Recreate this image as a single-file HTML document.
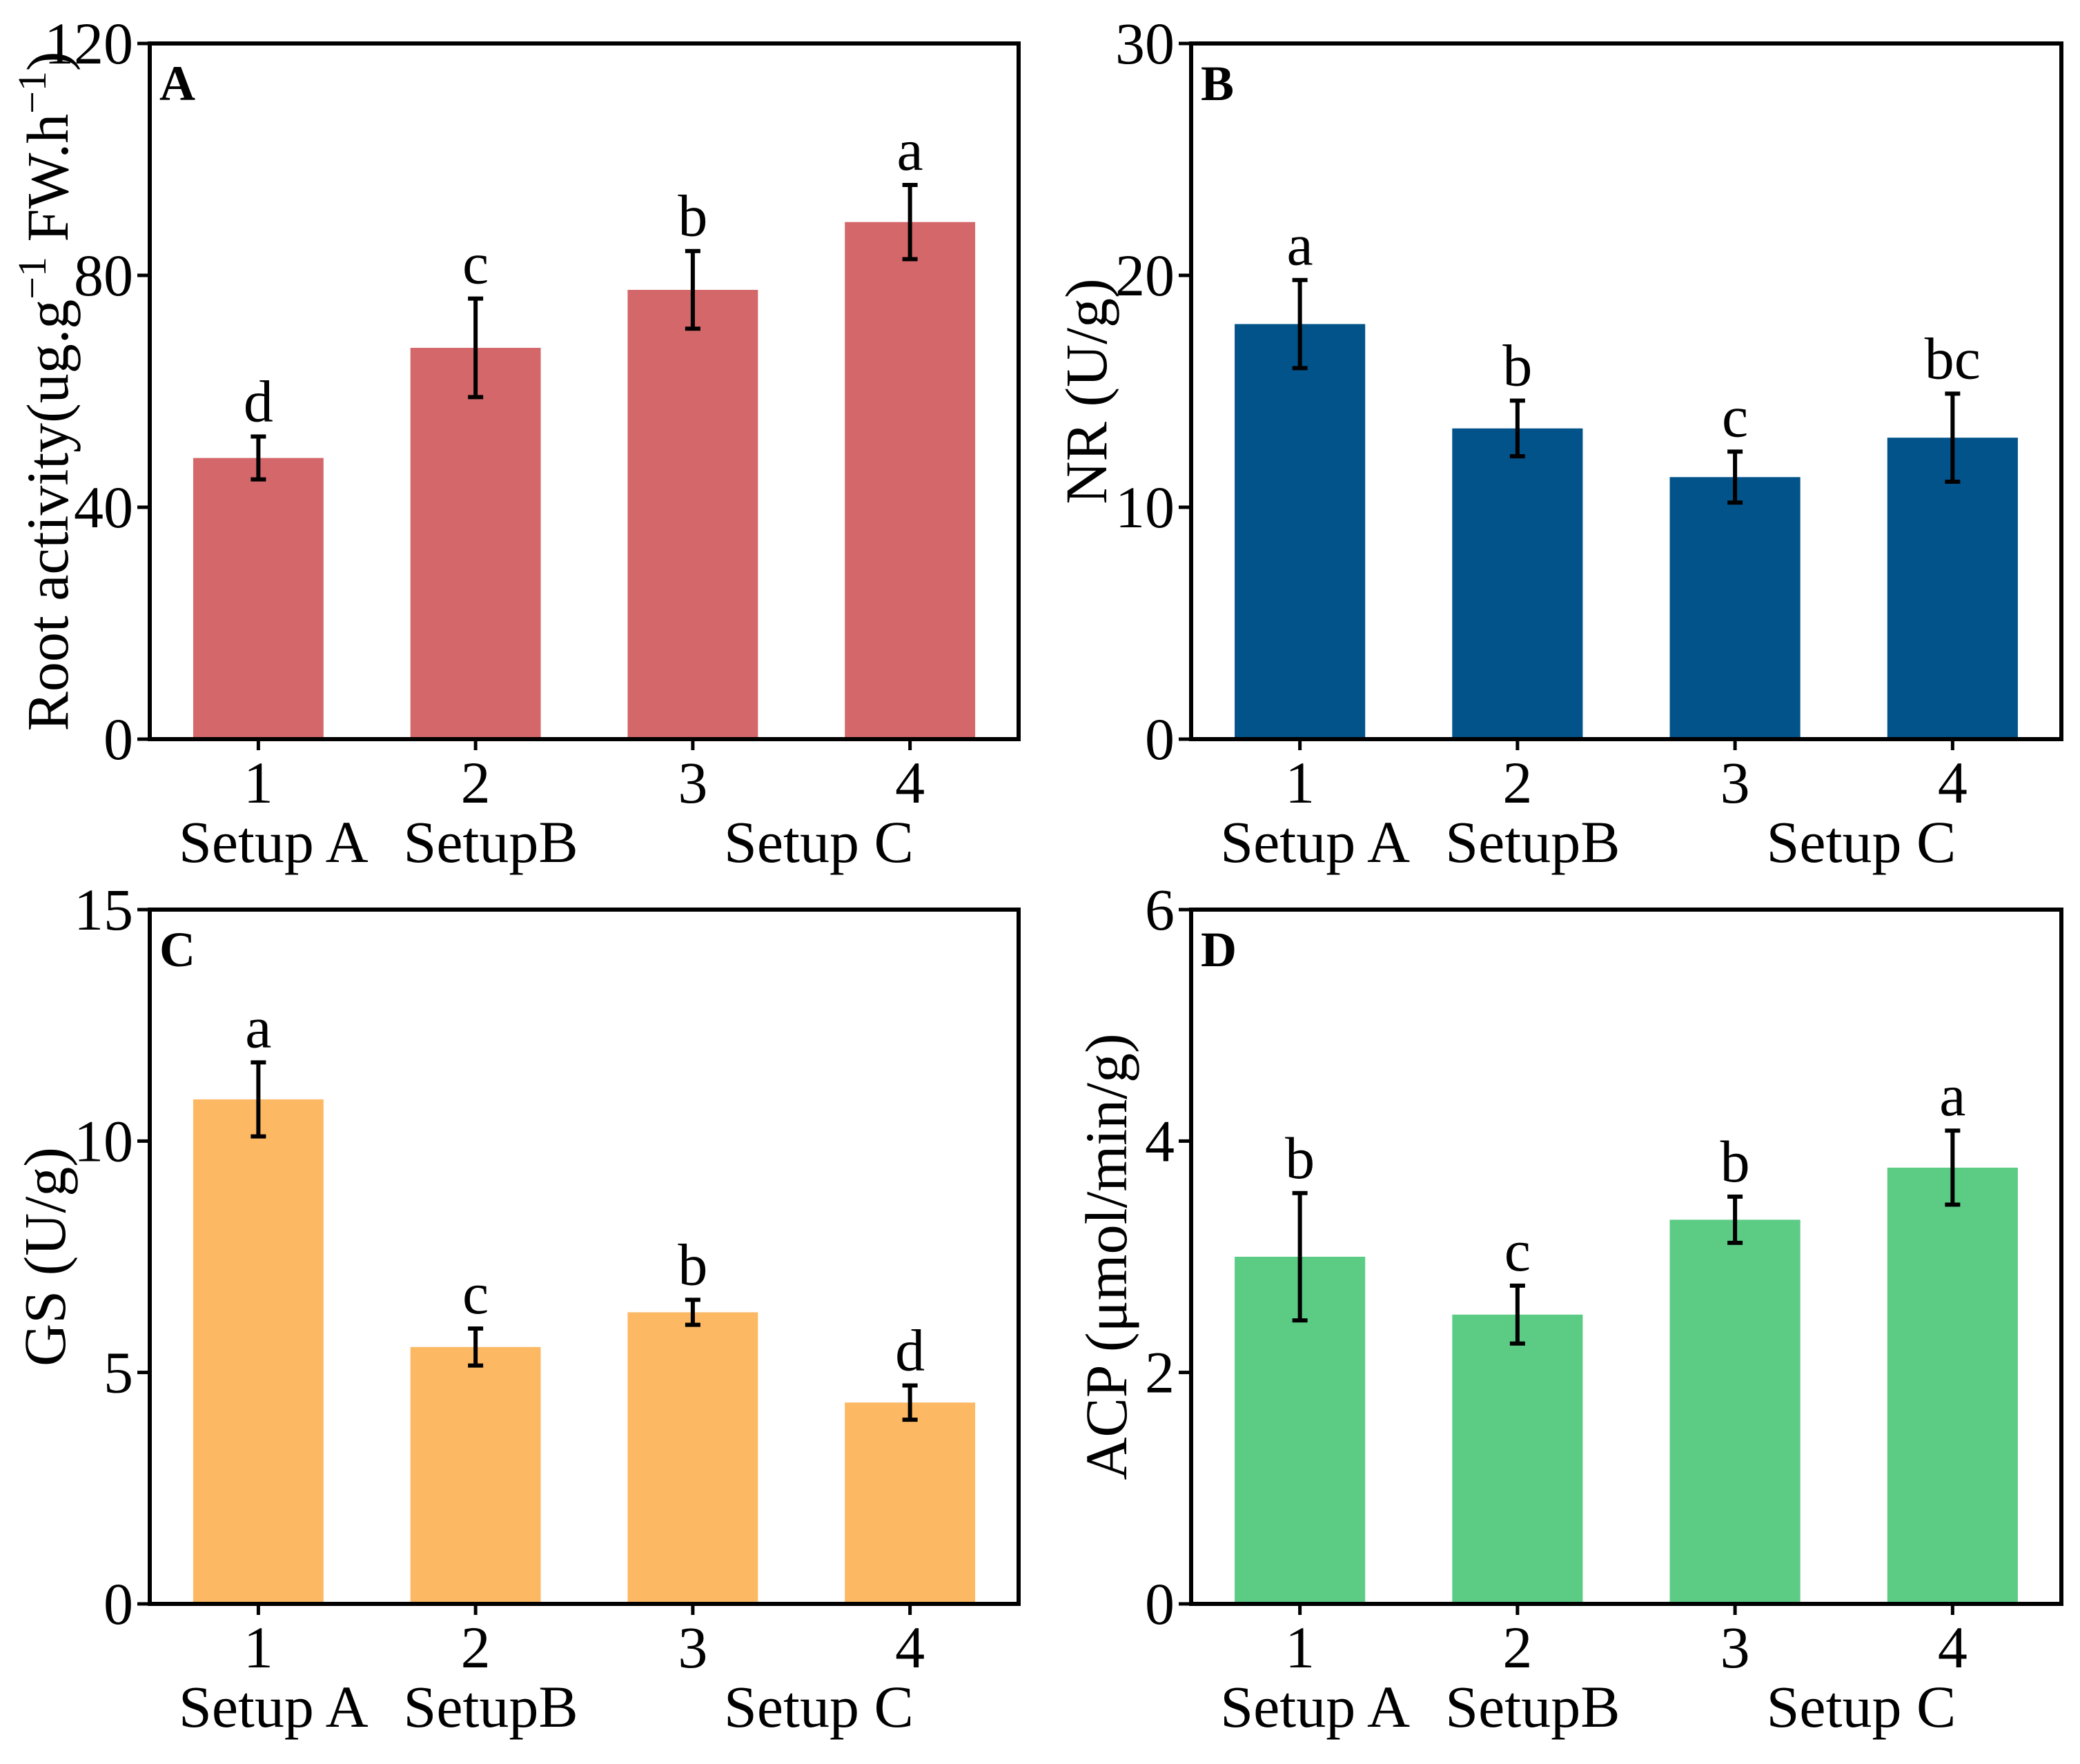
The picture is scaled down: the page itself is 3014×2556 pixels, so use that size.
<!DOCTYPE html>
<html><head><meta charset="utf-8"><style>
html,body{margin:0;padding:0;background:#fff;}
svg{display:block;font-family:"Liberation Serif",serif;}
</style></head><body>
<svg id="chart" width="3014" height="2556" viewBox="0 0 3014 2556"></svg>
<script>
const categories = ["1","2","3","4"];
const groupLabels = ["Setup A","SetupB","Setup C"];
const valuesA = [48.5, 67.5, 77.5, 89.2];
const errorsA = [3.7, 8.5, 6.7, 6.4];
const lettersA = ["d","c","b","a"];
const ticksA = [0,40,80,120];
const valuesB = [17.9, 13.4, 11.3, 13.0];
const errorsB = [1.9, 1.2, 1.1, 1.9];
const lettersB = ["a","b","c","bc"];
const ticksB = [0,10,20,30];
const valuesC = [10.9, 5.55, 6.3, 4.35];
const errorsC = [0.8, 0.4, 0.27, 0.37];
const lettersC = ["a","c","b","d"];
const ticksC = [0,5,10,15];
const valuesD = [3.0, 2.5, 3.32, 3.77];
const errorsD = [0.55, 0.25, 0.2, 0.32];
const lettersD = ["b","c","b","a"];
const ticksD = [0,2,4,6];

const NS="http://www.w3.org/2000/svg";
const svg=document.getElementById('chart');
function mk(tag,attrs,parent,text){const e=document.createElementNS(NS,tag);for(const k in attrs)e.setAttribute(k,attrs[k]);if(text!==undefined)e.textContent=text;(parent||svg).appendChild(e);return e;}

function panel(id,x0,x1,y0,y1,vals,errs,letters,ticks,color,ylabel,ylabX){
  const g=mk('g',{});
  
  
  const ymax=ticks[ticks.length-1];
  const xs=v=>x0+(v-0.5)/4*(x1-x0);
  const ys=v=>y1-v/ymax*(y1-y0);
  const bw=0.6/4*(x1-x0);
  vals.forEach((v,i)=>{
    const cx=xs(i+1);
    const r=mk('rect',{x:cx-bw/2,y:ys(v),width:bw,height:y1-ys(v),fill:color},g);
    
    
    const eh=ys(v+errs[i]), el=ys(v-errs[i]);
    const eb=mk('path',{d:`M${cx},${eh}V${el}M${cx-11},${eh}H${cx+11}M${cx-11},${el}H${cx+11}`,stroke:'#000','stroke-width':6,fill:'none'},g);
    
    
    const t=mk('text',{x:cx,y:eh-22,'font-size':86,'text-anchor':'middle'},g,letters[i]);
    
    
    const tk=mk('line',{x1:cx,x2:cx,y1:y1,y2:y1+16,stroke:'#000','stroke-width':5},g);
    
    
    const tl=mk('text',{x:cx,y:y1+92,'font-size':86,'text-anchor':'middle'},g,categories[i]);
    
    
  });
  ticks.forEach(t=>{
    const y=ys(t);
    const tk=mk('line',{x1:x0-18,x2:x0,y1:y,y2:y,stroke:'#000','stroke-width':5},g);
    
    
    const tl=mk('text',{x:x0-24,y:y+29,'font-size':86,'text-anchor':'end'},g,String(t));
    
    
  });
  const fr=mk('rect',{x:x0,y:y0,width:x1-x0,height:y1-y0,fill:'none',stroke:'#000','stroke-width':6},g);
  
  
  const pl=mk('text',{x:x0+14,y:y0+82,'font-size':72,'font-weight':'bold'},g,id);
  
  
  const gx=[1.07,2.07,3.58];
  groupLabels.forEach((s,i)=>{
    const t=mk('text',{x:xs(gx[i]),y:y1+178,'font-size':86,'text-anchor':'middle'},g,s);
    
    
  });
  const yl=mk('text',{x:0,y:0,'font-size':86,'text-anchor':'middle',transform:`translate(${ylabX},${(y0+y1)/2}) rotate(-90)`},g);
  yl.innerHTML=ylabel;
  
  
}
panel('A',217,1476,63,1071,valuesA,errorsA,lettersA,ticksA,'#d4676a','Root activity(ug.g<tspan baseline-shift="super" font-size="58">−1</tspan> FW.h<tspan baseline-shift="super" font-size="58">−1</tspan>)',98);
panel('B',1726,2987,63,1071,valuesB,errorsB,lettersB,ticksB,'#02538a','NR (U/g)',1603);
panel('C',217,1476,1318,2324,valuesC,errorsC,lettersC,ticksC,'#fdb863','GS (U/g)',94);
panel('D',1726,2987,1318,2324,valuesD,errorsD,lettersD,ticksD,'#5ccc85','ACP (μmol/min/g)',1632);
</script>
</body></html>
